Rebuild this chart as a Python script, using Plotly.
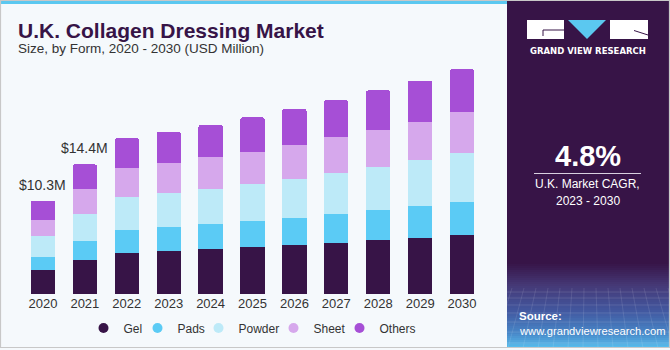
import plotly.graph_objects as go

# ---- data (USD Million) ----
years = ["2020", "2021", "2022", "2023", "2024", "2025", "2026", "2027", "2028", "2029", "2030"]
gel    = [2.67, 3.81, 4.56, 4.74, 4.97, 5.19, 5.41, 5.70, 5.96, 6.22, 6.56]
pads   = [1.48, 2.11, 2.56, 2.67, 2.81, 2.89, 3.03, 3.19, 3.37, 3.56, 3.70]
powder = [2.33, 3.00, 3.67, 3.82, 3.92, 4.14, 4.33, 4.56, 4.74, 5.07, 5.37]
sheet  = [1.78, 2.71, 3.19, 3.29, 3.49, 3.59, 3.81, 4.00, 4.18, 4.26, 4.59]
others = [2.08, 2.77, 3.33, 3.49, 3.59, 3.82, 3.96, 4.08, 4.38, 4.56, 4.74]
series_names = ["Gel", "Pads", "Powder", "Sheet", "Others"]
series_colors = ["#371447", "#5BCBF5", "#BDEAF8", "#D6A8EC", "#A64FD6"]
legend_widths = [9, 16, 30, 21, 37]
labelled_years = ["2020", "2021"]
label_texts = ["&#36;10.3M", "&#36;14.4M"]
cagr_text = "4.8%"

W, H = 670, 350
ML, MR, MT, MB = 22, 187, 60, 56
PW, PH = W - ML - MR, H - MT - MB

def px(x):
    return (x - ML) / PW

def py(y):
    return (H - MB - y) / PH

FONT = "Liberation Sans"

fig = go.Figure()
for name, vals, col, lw in zip(series_names, [gel, pads, powder, sheet, others], series_colors, legend_widths):
    fig.add_trace(go.Bar(x=years, y=vals, name=name, marker_color=col,
                         marker_line_width=0, width=0.58, showlegend=False))
    fig.add_trace(go.Scatter(x=[None], y=[None], mode="markers", name=name, legendwidth=lw,
                             marker=dict(symbol="circle", size=10, color=col)))

totals = [round(a + b + c + d + e, 2) for a, b, c, d, e in zip(gel, pads, powder, sheet, others)]

annotations = []
for yr, txt in zip(labelled_years, label_texts):
    i = years.index(yr)
    annotations.append(dict(x=i, y=totals[i], xref="x", yref="y", text=txt, showarrow=False,
                            yanchor="bottom", yshift=6, xshift=0,
                            font=dict(family=FONT, size=14, color="#333333")))

# titles
annotations.append(dict(x=px(16), y=py(30), xref="paper", yref="paper", xanchor="left", yanchor="middle",
                        text="<b>U.K. Collagen Dressing Market</b>", showarrow=False,
                        font=dict(family=FONT, size=21, color="#371447")))
annotations.append(dict(x=px(16), y=py(49), xref="paper", yref="paper", xanchor="left", yanchor="middle",
                        text="Size, by Form, 2020 - 2030 (USD Million)", showarrow=False,
                        font=dict(family=FONT, size=13.5, color="#333333")))
# right panel texts
annotations.append(dict(x=px(587.5), y=py(51), xref="paper", yref="paper", xanchor="center", yanchor="middle",
                        text="<b>GRAND VIEW RESEARCH</b>", showarrow=False,
                        font=dict(family="DejaVu Sans", size=8.5, color="#FFFFFF")))
annotations.append(dict(x=px(587.5), y=py(156), xref="paper", yref="paper", xanchor="center", yanchor="middle",
                        text="<b>" + cagr_text + "</b>", showarrow=False,
                        font=dict(family=FONT, size=29, color="#FFFFFF")))
annotations.append(dict(x=px(587.5), y=py(184), xref="paper", yref="paper", xanchor="center", yanchor="middle",
                        text="U.K. Market CAGR,", showarrow=False,
                        font=dict(family=FONT, size=12, color="#FFFFFF")))
annotations.append(dict(x=px(587.5), y=py(201), xref="paper", yref="paper", xanchor="center", yanchor="middle",
                        text="2023 - 2030", showarrow=False,
                        font=dict(family=FONT, size=12, color="#FFFFFF")))
annotations.append(dict(x=px(517), y=py(316), xref="paper", yref="paper", xanchor="left", yanchor="middle",
                        text="<b>Source:</b>", showarrow=False,
                        font=dict(family=FONT, size=11.5, color="#FFFFFF")))
annotations.append(dict(x=px(517), y=py(331), xref="paper", yref="paper", xanchor="left", yanchor="middle",
                        text="www.grandviewresearch.com", showarrow=False,
                        font=dict(family=FONT, size=11.2, color="#FFFFFF")))

shapes = []
def rect(x0, y0, x1, y1, fill):
    shapes.append(dict(type="rect", xref="paper", yref="paper", x0=px(x0), x1=px(x1), y0=py(y0), y1=py(y1),
                       fillcolor=fill, layer="below", line=dict(width=0, color=fill)))

# top stripe
rect(0, 0, 507, 4, "#5BC8F0")
# right panel
rect(507, 0, 670, 348, "#371447")
# gradient bands at bottom of right panel
stops = [(262, (55, 20, 71)), (285, (70, 58, 120)), (310, (66, 88, 160)), (332, (72, 135, 200)), (348, (90, 195, 240))]
band = 2
y = 262
while y < 348:
    for (ya, ca), (yb, cb) in zip(stops[:-1], stops[1:]):
        if ya <= y < yb:
            t = (y - ya) / (yb - ya)
            c = tuple(int(ca[k] + (cb[k] - ca[k]) * t) for k in range(3))
            break
    rect(507, y, 670, min(y + band + 0.6, 348), "rgb(%d,%d,%d)" % c)
    y += band
# faint grid lines in gradient
for gy in [292, 298, 305, 313, 322, 332, 343]:
    shapes.append(dict(type="line", xref="paper", yref="paper", x0=px(507), x1=px(670), y0=py(gy), y1=py(gy),
                       line=dict(color="rgba(255,255,255,0.12)", width=1), layer="below"))
for gx in range(512, 670, 12):
    shapes.append(dict(type="line", xref="paper", yref="paper", x0=px(gx), x1=px(gx + (gx - 588) * 0.25), y0=py(288), y1=py(348),
                       line=dict(color="rgba(255,255,255,0.10)", width=1), layer="below"))
# logo
rect(527, 20, 564, 39, "#FFFFFF")
rect(610, 20, 648, 39, "#FFFFFF")
shapes.append(dict(type="path", xref="paper", yref="paper",
                   path="M %f,%f L %f,%f L %f,%f Z" % (px(568), py(20), px(606), py(20), px(587), py(39)),
                   fillcolor="#5BC8F0", line=dict(width=0), layer="below"))
shapes.append(dict(type="path", xref="paper", yref="paper",
                   path="M %f,%f L %f,%f L %f,%f" % (px(564), py(30), px(543), py(30), px(543), py(36)),
                   line=dict(width=1, color="#371447"), layer="below"))
shapes.append(dict(type="line", xref="paper", yref="paper", x0=px(634), y0=py(30.5), x1=px(648), y1=py(35),
                   line=dict(width=1, color="#371447"), layer="below"))
# divider under CAGR value
shapes.append(dict(type="line", xref="paper", yref="paper", x0=px(534), x1=px(641), y0=py(173.5), y1=py(173.5),
                   line=dict(width=1, color="#D8D0E0"), layer="below"))
# outer border
shapes.append(dict(type="rect", xref="paper", yref="paper", x0=px(0.5), x1=px(669.5), y0=py(0.5), y1=py(347.5),
                   fillcolor="rgba(0,0,0,0)", line=dict(width=1.2, color="#C8C8C8"), layer="above"))

fig.update_layout(
    template="none",
    width=W, height=H,
    margin=dict(l=ML, r=MR, t=MT, b=MB, pad=0, autoexpand=False),
    paper_bgcolor="#F5F9FC", plot_bgcolor="rgba(0,0,0,0)",
    barmode="stack", barcornerradius=2,
    xaxis=dict(type="category", range=[-0.5, 10.5], showgrid=False, showline=False, ticks="",
               zeroline=False, automargin=False,
               tickfont=dict(family=FONT, size=13, color="#333333")),
    yaxis=dict(range=[0, 26], showticklabels=False, showgrid=False, zeroline=False, showline=False,
               ticks="", automargin=False),
    showlegend=True,
    legend=dict(orientation="h", traceorder="normal", x=0.5, xanchor="center",
                yref="container", y=(H - 328) / H, yanchor="middle",
                font=dict(family=FONT, size=12, color="#333333"), bgcolor="rgba(0,0,0,0)",
                itemwidth=30, tracegroupgap=0),
    annotations=annotations, shapes=shapes,
)

fig.write_html("out.html")
